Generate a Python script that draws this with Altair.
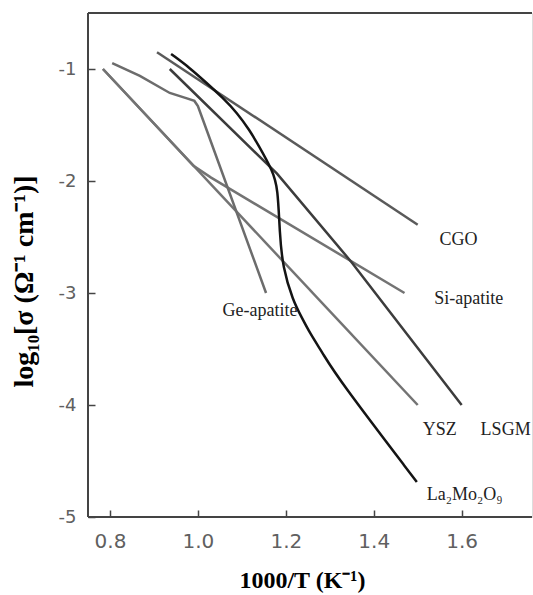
import altair as alt
import pandas as pd

# --- data ---
ysz_x = [0.784, 1.50]
ysz_y = [-1.0, -4.0]
si_x = [0.784, 0.99, 1.03, 1.47]
si_y = [-1.0, -1.865, -1.97, -3.0]
ge_x = [0.805, 0.868, 0.936, 0.975, 0.992, 1.0, 1.012, 1.155]
ge_y = [-0.947, -1.062, -1.214, -1.262, -1.285, -1.33, -1.46, -3.0]
cgo_x = [0.907, 1.5]
cgo_y = [-0.85, -2.39]
lsgm_x = [0.936, 1.18, 1.35, 1.6]
lsgm_y = [-1.0, -1.935, -2.727, -4.0]
la_x = [0.939, 0.982, 1.02, 1.057, 1.089, 1.118, 1.136, 1.17, 1.182, 1.186,
        1.193, 1.216, 1.236, 1.255, 1.284, 1.318, 1.498]
la_y = [-0.866, -0.991, -1.125, -1.258, -1.39, -1.55, -1.668, -1.908, -2.06,
        -2.469, -2.772, -3.066, -3.217, -3.36, -3.538, -3.76, -4.687]

series_names = ["YSZ", "Si-apatite", "Ge-apatite", "CGO", "LSGM", "La2Mo2O9"]
series_colors = ["#737373", "#737373", "#6c6c6c", "#5a5a5a", "#3c3c3c", "#141414"]

label_text = ["CGO", "Si-apatite", "Ge-apatite", "YSZ", "LSGM", "La₂Mo₂O₉"]
label_x = [1.593, 1.616, 1.141, 1.55, 1.70, 1.607]
label_y = [-2.53, -3.05, -3.16, -4.22, -4.22, -4.80]

x_ticks = [0.8, 1.0, 1.2, 1.4, 1.6]
y_ticks = [-1, -2, -3, -4, -5]

# --- build tables ---
rows = []
for name, xs, ys in [("YSZ", ysz_x, ysz_y), ("Si-apatite", si_x, si_y),
                     ("Ge-apatite", ge_x, ge_y), ("CGO", cgo_x, cgo_y),
                     ("LSGM", lsgm_x, lsgm_y), ("La2Mo2O9", la_x, la_y)]:
    for i, (a, b) in enumerate(zip(xs, ys)):
        rows.append({"series": name, "x": a, "y": b, "i": i})
df = pd.DataFrame(rows)
labels = pd.DataFrame({"text": label_text, "x": label_x, "y": label_y})

xdom = [0.75, 1.76]
ydom = [-5, -0.5]

xscale = alt.Scale(domain=xdom, nice=False, zero=False)
yscale = alt.Scale(domain=ydom, nice=False, zero=False)

xaxis = alt.Axis(values=x_ticks, format=".1f", domain=False, grid=False,
                 offset=-7, tickSize=7, tickWidth=1.5, tickColor="#444",
                 labelFont="DejaVu Sans", labelFontSize=20, labelColor="#606060",
                 labelPadding=14,
                 title="1000/T (K⁻¹)", titleFont="Liberation Serif",
                 titleFontSize=24, titleFontWeight="bold", titleColor="#000",
                 titleX=214, titleY=58)
yaxis = alt.Axis(values=y_ticks, domain=False, grid=False,
                 labelExpr="toString(datum.value)",
                 offset=-7, tickSize=7, tickWidth=1.5, tickColor="#444",
                 labelFont="DejaVu Sans", labelFontSize=18, labelColor="#606060",
                 labelPadding=12,
                 title="log₁₀[σ (Ω⁻¹ cm⁻¹)]", titleFont="Liberation Serif",
                 titleFontSize=28, titleFontWeight="bold", titleColor="#000",
                 titleX=-57, titleY=268)

color = alt.Color("series:N", scale=alt.Scale(domain=series_names, range=series_colors),
                  legend=None)

base_lines = alt.Chart(df[df.series != "La2Mo2O9"]).mark_line(
    strokeWidth=2.5, interpolate="linear", clip=True
).encode(
    x=alt.X("x:Q", scale=xscale, axis=xaxis),
    y=alt.Y("y:Q", scale=yscale, axis=yaxis),
    color=color,
    order="i:Q",
)

la_line = alt.Chart(df[df.series == "La2Mo2O9"]).mark_line(
    strokeWidth=2.5, interpolate="basis", clip=True
).encode(
    x=alt.X("x:Q", scale=xscale),
    y=alt.Y("y:Q", scale=yscale),
    color=color,
    order="i:Q",
)

text = alt.Chart(labels).mark_text(
    font="Liberation Serif", fontSize=18, color="#222", align="center", baseline="middle"
).encode(
    x=alt.X("x:Q", scale=xscale),
    y=alt.Y("y:Q", scale=yscale),
    text="text:N",
)

frame_h = alt.Chart(pd.DataFrame({"y": [ydom[0], ydom[1]]})).mark_rule(
    color="#444", strokeWidth=2
).encode(y=alt.Y("y:Q", scale=yscale))
frame_v = alt.Chart(pd.DataFrame({"x": [xdom[0]]})).mark_rule(
    color="#444", strokeWidth=2
).encode(x=alt.X("x:Q", scale=xscale))

chart = alt.layer(base_lines, la_line, text, frame_h, frame_v).properties(
    width=444, height=504,
    autosize=alt.AutoSizeParams(type="none"),
    padding={"left": 88, "top": 13, "right": 1, "bottom": 78},
).configure_view(strokeWidth=0).configure(background="white")

chart.save("out.html", embed_options={"renderer": "svg", "actions": False})
